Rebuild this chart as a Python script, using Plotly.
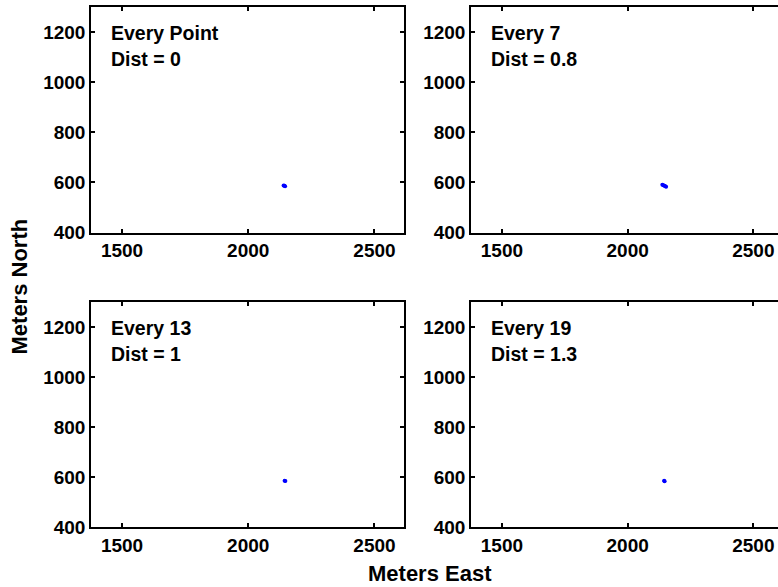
import plotly.graph_objects as go

# ---- data ----
panel_titles = ["Every Point", "Every 7", "Every 13", "Every 19"]
panel_dists = ["Dist = 0", "Dist = 0.8", "Dist = 1", "Dist = 1.3"]
east_every_point = [2140, 2143, 2146]
north_every_point = [588, 587, 585]
east_every_7 = [2138, 2142, 2146, 2150, 2153]
north_every_7 = [591, 589, 587, 585, 583]
east_every_13 = [2144, 2147]
north_every_13 = [586, 585]
east_every_19 = [2145, 2147]
north_every_19 = [586, 584]
x_ticks = [1500, 2000, 2500]
y_ticks = [400, 600, 800, 1000, 1200]
x_range_left = [1377, 2617]
x_range_right = [1377, 2598]
y_range = [400, 1300]

W = 778
H = 597          # page height; the capture maps it onto 587 px
K = H / 587.0    # reference-pixel -> page-pixel factor (vertical)

series = [
    (east_every_point, north_every_point),
    (east_every_7, north_every_7),
    (east_every_13, north_every_13),
    (east_every_19, north_every_19),
]


def py(ref_px):
    """paper y for a vertical reference pixel position"""
    return 1 - ref_px * K / H


# pixel domains
xdoms = [[91 / W, 404 / W], [471 / W, 1.0]]
ydoms = [[py(233), py(7)], [py(528), py(303)]]

FAM = "Liberation Sans, Arial, sans-serif"
font_tick = dict(family=FAM, size=19, color="black")
font_ann = dict(family=FAM, size=19.5, color="black")
font_title = dict(family=FAM, size=22, color="black")

fig = go.Figure()

for i, (xs, ys) in enumerate(series):
    row, col = divmod(i, 2)
    n = i + 1
    xa = "x" if n == 1 else f"x{n}"
    ya = "y" if n == 1 else f"y{n}"
    fig.add_trace(go.Scatter(
        x=xs, y=ys, mode="markers",
        marker=dict(color="#0000ff", size=4),
        xaxis=xa, yaxis=ya, showlegend=False, hoverinfo="skip",
    ))
    xkey = "xaxis" if n == 1 else f"xaxis{n}"
    ykey = "yaxis" if n == 1 else f"yaxis{n}"
    fig.layout[xkey] = dict(
        domain=xdoms[col], anchor=ya,
        range=x_range_left if col == 0 else x_range_right,
        tickvals=x_ticks, ticktext=[f"<b>{v}</b>" for v in x_ticks],
        ticks="inside", ticklen=4, tickwidth=1.5, tickcolor="black",
        showline=True, linecolor="black", linewidth=1.5, mirror="ticks",
        showgrid=False, zeroline=False, tickfont=font_tick,
    )
    fig.layout[ykey] = dict(
        domain=ydoms[row], anchor=xa,
        range=y_range,
        tickvals=y_ticks, ticktext=[f"<b>{v}</b>" for v in y_ticks],
        ticks="inside", ticklen=4, tickwidth=1.5, tickcolor="black",
        showline=True, linecolor="black", linewidth=1.5,
        mirror="ticks" if col == 0 else False,
        showgrid=False, zeroline=False, tickfont=font_tick,
    )
    fig.add_annotation(x=1450, y=1196, xref=xa, yref=ya, text=f"<b>{panel_titles[i]}</b>",
                       showarrow=False, xanchor="left", yanchor="middle", font=font_ann)
    fig.add_annotation(x=1450, y=1092, xref=xa, yref=ya, text=f"<b>{panel_dists[i]}</b>",
                       showarrow=False, xanchor="left", yanchor="middle", font=font_ann)

fig.add_annotation(x=430 / W, y=py(574), xref="paper", yref="paper", text="<b>Meters East</b>",
                   showarrow=False, xanchor="center", yanchor="middle", font=font_title)
fig.add_annotation(x=20 / W, y=py(287), xref="paper", yref="paper", text="<b>Meters North</b>",
                   showarrow=False, xanchor="center", yanchor="middle", textangle=-90,
                   font=font_title)

fig.update_layout(
    width=W, height=H,
    margin=dict(l=0, r=0, t=0, b=0),
    plot_bgcolor="white", paper_bgcolor="white",
)

fig.write_html(
    "out.html",
    config={"displayModeBar": False},
    post_script="document.body.style.margin='0';document.body.style.overflow='hidden';",
)
